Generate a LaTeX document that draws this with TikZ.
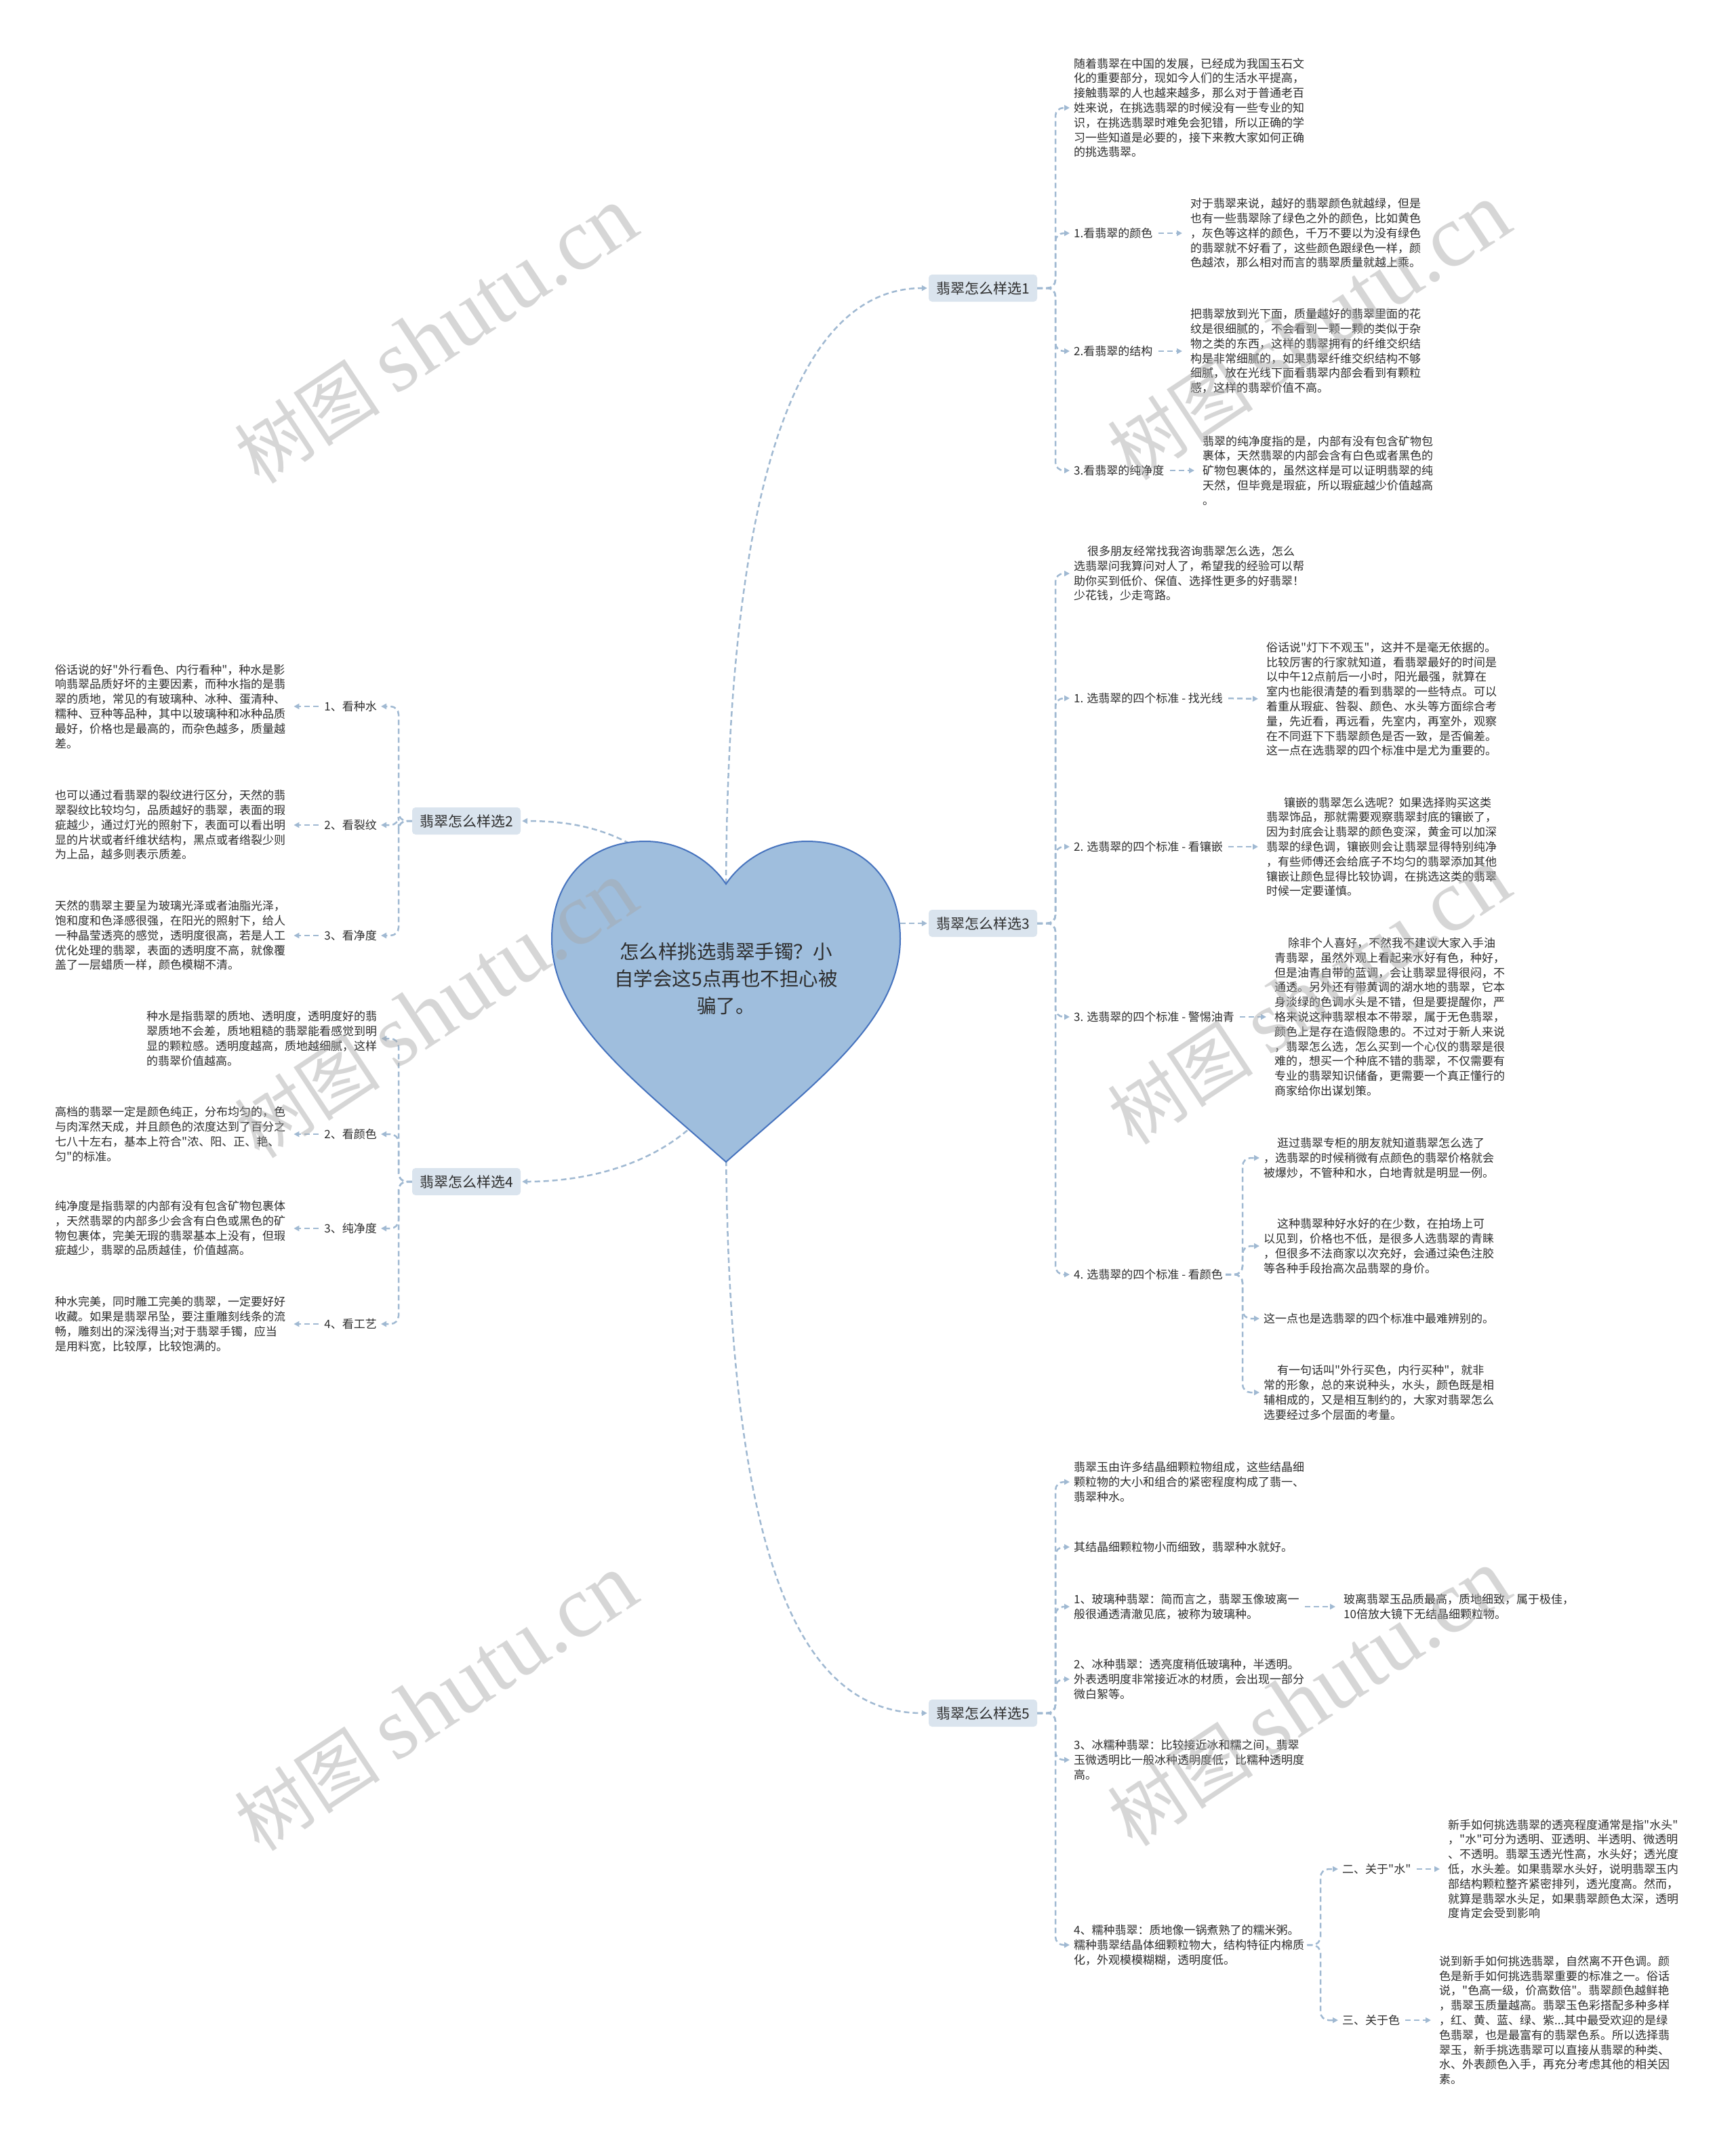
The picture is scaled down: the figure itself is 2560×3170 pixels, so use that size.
\documentclass[tikz,border=0pt]{standalone}
\usepackage{fontspec}
\setmainfont{Noto Sans CJK SC}
\newfontfamily\cjk{Noto Sans CJK SC}
\newfontfamily\wmserif{Liberation Serif}
\usetikzlibrary{arrows.meta}
\definecolor{conn}{RGB}{160,185,210}
\definecolor{boxfill}{RGB}{218,228,238}
\definecolor{txt}{RGB}{45,45,45}
\definecolor{heartfill}{RGB}{159,190,221}
\definecolor{heartline}{RGB}{70,115,190}
\tikzset{
 cnx/.style={draw=conn, line width=2.5pt, dash pattern=on 8pt off 5pt, -{Triangle[length=8pt,width=8pt]}},
 cnxr/.style={cnx, rounded corners=12pt, shorten >=6pt},
 cnxs/.style={cnx, shorten <=8pt, shorten >=12pt},
 cnxh/.style={cnx, shorten >=2pt},
 branch/.style={rectangle, rounded corners=5pt, fill=boxfill, text=txt, font=\cjk\fontsize{21}{26}\selectfont, inner xsep=10pt, minimum height=40pt, minimum width=160pt},
 body/.style={inner sep=0pt, text=txt, align=left, font=\cjk\fontsize{17}{21.8}\selectfont},
 lab/.style={inner sep=0pt, text=txt, font=\cjk\fontsize{17}{21.8}\selectfont},
 wmark/.style={text=black!35, opacity=0.45, rotate=33.5, inner sep=0pt}
}
\begin{document}
\begin{tikzpicture}[x=1pt,y=-1pt]
\useasboundingbox (0,0) rectangle (2560,3170);
\fill[white] (0,0) rectangle (2560,3170);

% ---------- section 1 ----------
\node[branch] (b1) at (1450,425) {翡翠怎么样选1};
\node[body,anchor=west] (s1a) at (1584,159) {随着翡翠在中国的发展，已经成为我国玉石文\\化的重要部分，现如今人们的生活水平提高，\\接触翡翠的人也越来越多，那么对于普通老百\\姓来说，在挑选翡翠的时候没有一些专业的知\\识，在挑选翡翠时难免会犯错，所以正确的学\\习一些知道是必要的，接下来教大家如何正确\\的挑选翡翠。};
\node[lab,anchor=west] (s1b) at (1584,344) {1.看翡翠的颜色};
\node[body,anchor=west] (s1bt) at (1756,344) {对于翡翠来说，越好的翡翠颜色就越绿，但是\\也有一些翡翠除了绿色之外的颜色，比如黄色\\，灰色等这样的颜色，千万不要以为没有绿色\\的翡翠就不好看了，这些颜色跟绿色一样，颜\\色越浓，那么相对而言的翡翠质量就越上乘。};
\node[lab,anchor=west] (s1c) at (1584,518) {2.看翡翠的结构};
\node[body,anchor=west] (s1ct) at (1756,518) {把翡翠放到光下面，质量越好的翡翠里面的花\\纹是很细腻的，不会看到一颗一颗的类似于杂\\物之类的东西，这样的翡翠拥有的纤维交织结\\构是非常细腻的，如果翡翠纤维交织结构不够\\细腻，放在光线下面看翡翠内部会看到有颗粒\\感，这样的翡翠价值不高。};
\node[lab,anchor=west] (s1d) at (1584,694) {3.看翡翠的纯净度};
\node[body,anchor=west] (s1dt) at (1774,694) {翡翠的纯净度指的是，内部有没有包含矿物包\\裹体，天然翡翠的内部会含有白色或者黑色的\\矿物包裹体的，虽然这样是可以证明翡翠的纯\\天然，但毕竟是瑕疵，所以瑕疵越少价值越高\\。};

% ---------- section 3 ----------
\node[branch] (b3) at (1450,1362) {翡翠怎么样选3};
\node[body,anchor=west] (s3a) at (1584,846) {\hspace*{20pt}很多朋友经常找我咨询翡翠怎么选，怎么\\选翡翠问我算问对人了，希望我的经验可以帮\\助你买到低价、保值、选择性更多的好翡翠！\\少花钱，少走弯路。};
\node[lab,anchor=west] (s3b) at (1584,1030) {1. 选翡翠的四个标准 - 找光线};
\node[body,anchor=west] (s3bt) at (1868,1031) {俗话说"灯下不观玉"，这并不是毫无依据的。\\比较厉害的行家就知道，看翡翠最好的时间是\\以中午12点前后一小时，阳光最强，就算在\\室内也能很清楚的看到翡翠的一些特点。可以\\着重从瑕疵、咎裂、颜色、水头等方面综合考\\量，先近看，再远看，先室内，再室外，观察\\在不同逛下下翡翠颜色是否一致，是否偏差。\\这一点在选翡翠的四个标准中是尤为重要的。};
\node[lab,anchor=west] (s3c) at (1584,1249) {2. 选翡翠的四个标准 - 看镶嵌};
\node[body,anchor=west] (s3ct) at (1868,1249) {\hspace*{26pt}镶嵌的翡翠怎么选呢？如果选择购买这类\\翡翠饰品，那就需要观察翡翠封底的镶嵌了，\\因为封底会让翡翠的颜色变深，黄金可以加深\\翡翠的绿色调，镶嵌则会让翡翠显得特别纯净\\，有些师傅还会给底子不均匀的翡翠添加其他\\镶嵌让颜色显得比较协调，在挑选这类的翡翠\\时候一定要谨慎。};
\node[lab,anchor=west] (s3d) at (1584,1500) {3. 选翡翠的四个标准 - 警惕油青};
\node[body,anchor=west] (s3dt) at (1880,1500) {\hspace*{20pt}除非个人喜好，不然我不建议大家入手油\\青翡翠，虽然外观上看起来水好有色，种好，\\但是油青自带的蓝调，会让翡翠显得很闷，不\\通透。另外还有带黄调的湖水地的翡翠，它本\\身淡绿的色调水头是不错，但是要提醒你，严\\格来说这种翡翠根本不带翠，属于无色翡翠，\\颜色上是存在造假隐患的。不过对于新人来说\\，翡翠怎么选，怎么买到一个心仪的翡翠是很\\难的，想买一个种底不错的翡翠，不仅需要有\\专业的翡翠知识储备，更需要一个真正懂行的\\商家给你出谋划策。};
\node[lab,anchor=west] (s3e) at (1584,1880) {4. 选翡翠的四个标准 - 看颜色};
\node[body,anchor=west] (s3e1) at (1864,1708) {\hspace*{20pt}逛过翡翠专柜的朋友就知道翡翠怎么选了\\，选翡翠的时候稍微有点颜色的翡翠价格就会\\被爆炒，不管种和水，白地青就是明显一例。};
\node[body,anchor=west] (s3e2) at (1864,1838) {\hspace*{20pt}这种翡翠种好水好的在少数，在拍场上可\\以见到，价格也不低，是很多人选翡翠的青睐\\，但很多不法商家以次充好，会通过染色注胶\\等各种手段抬高次品翡翠的身价。};
\node[body,anchor=west] (s3e3) at (1864,1945) {这一点也是选翡翠的四个标准中最难辨别的。};
\node[body,anchor=west] (s3e4) at (1864,2054) {\hspace*{20pt}有一句话叫"外行买色，内行买种"，就非\\常的形象，总的来说种头，水头，颜色既是相\\辅相成的，又是相互制约的，大家对翡翠怎么\\选要经过多个层面的考量。};

% ---------- section 5 ----------
\node[branch] (b5) at (1450,2527) {翡翠怎么样选5};
\node[body,anchor=west] (s5a) at (1584,2186) {翡翠玉由许多结晶细颗粒物组成，这些结晶细\\颗粒物的大小和组合的紧密程度构成了翡一、\\翡翠种水。};
\node[body,anchor=west] (s5b) at (1584,2282) {其结晶细颗粒物小而细致，翡翠种水就好。};
\node[body,anchor=west] (s5c) at (1584,2370) {1、玻璃种翡翠：简而言之，翡翠玉像玻离一\\般很通透清澈见底，被称为玻璃种。};
\node[body,anchor=west] (s5ct) at (1982,2370) {玻离翡翠玉品质最高，质地细致，属于极佳，\\10倍放大镜下无结晶细颗粒物。};
\node[body,anchor=west] (s5d) at (1584,2477) {2、冰种翡翠：透亮度稍低玻璃种，半透明。\\外表透明度非常接近冰的材质，会出现一部分\\微白絮等。};
\node[body,anchor=west] (s5e) at (1584,2596) {3、冰糯种翡翠：比较接近冰和糯之间，翡翠\\玉微透明比一般冰种透明度低，比糯种透明度\\高。};
\node[body,anchor=west] (s5f) at (1584,2869) {4、糯种翡翠：质地像一锅煮熟了的糯米粥。\\糯种翡翠结晶体细颗粒物大，结构特征内棉质\\化，外观模模糊糊，透明度低。};
\node[lab,anchor=west] (s5g) at (1980,2757) {二、关于"水"};
\node[body,anchor=west] (s5gt) at (2136,2757) {新手如何挑选翡翠的透亮程度通常是指"水头"\\，"水"可分为透明、亚透明、半透明、微透明\\、不透明。翡翠玉透光性高，水头好；透光度\\低，水头差。如果翡翠水头好，说明翡翠玉内\\部结构颗粒整齐紧密排列，透光度高。然而，\\就算是翡翠水头足，如果翡翠颜色太深，透明\\度肯定会受到影响};
\node[lab,anchor=west] (s5h) at (1980,2980) {三、关于色};
\node[body,anchor=west] (s5ht) at (2123,2980) {说到新手如何挑选翡翠，自然离不开色调。颜\\色是新手如何挑选翡翠重要的标准之一。俗话\\说，"色高一级，价高数倍"。翡翠颜色越鲜艳\\，翡翠玉质量越高。翡翠玉色彩搭配多种多样\\，红、黄、蓝、绿、紫...其中最受欢迎的是绿\\色翡翠，也是最富有的翡翠色系。所以选择翡\\翠玉，新手挑选翡翠可以直接从翡翠的种类、\\水、外表颜色入手，再充分考虑其他的相关因\\素。};

% ---------- section 2 ----------
\node[branch] (b2) at (688,1211) {翡翠怎么样选2};
\node[lab,anchor=east] (s2a) at (556,1042) {1、看种水};
\node[body,anchor=west] (s2at) at (81,1042) {俗话说的好"外行看色、内行看种"，种水是影\\响翡翠品质好坏的主要因素，而种水指的是翡\\翠的质地，常见的有玻璃种、冰种、蛋清种、\\糯种、豆种等品种，其中以玻璃种和冰种品质\\最好，价格也是最高的，而杂色越多，质量越\\差。};
\node[lab,anchor=east] (s2b) at (556,1217) {2、看裂纹};
\node[body,anchor=west] (s2bt) at (81,1217) {也可以通过看翡翠的裂纹进行区分，天然的翡\\翠裂纹比较均匀，品质越好的翡翠，表面的瑕\\疵越少，通过灯光的照射下，表面可以看出明\\显的片状或者纤维状结构，黑点或者绺裂少则\\为上品，越多则表示质差。};
\node[lab,anchor=east] (s2c) at (556,1380) {3、看净度};
\node[body,anchor=west] (s2ct) at (81,1380) {天然的翡翠主要呈为玻璃光泽或者油脂光泽，\\饱和度和色泽感很强，在阳光的照射下，给人\\一种晶莹透亮的感觉，透明度很高，若是人工\\优化处理的翡翠，表面的透明度不高，就像覆\\盖了一层蜡质一样，颜色模糊不清。};

% ---------- section 4 ----------
\node[branch] (b4) at (688,1743) {翡翠怎么样选4};
\node[body,anchor=west] (s4a) at (216,1532) {种水是指翡翠的质地、透明度，透明度好的翡\\翠质地不会差，质地粗糙的翡翠能看感觉到明\\显的颗粒感。透明度越高，质地越细腻，这样\\的翡翠价值越高。};
\node[lab,anchor=east] (s4b) at (556,1673) {2、看颜色};
\node[body,anchor=west] (s4bt) at (81,1673) {高档的翡翠一定是颜色纯正，分布均匀的，色\\与肉浑然天成，并且颜色的浓度达到了百分之\\七八十左右，基本上符合"浓、阳、正、艳、\\匀"的标准。};
\node[lab,anchor=east] (s4c) at (556,1812) {3、纯净度};
\node[body,anchor=west] (s4ct) at (81,1812) {纯净度是指翡翠的内部有没有包含矿物包裹体\\，天然翡翠的内部多少会含有白色或黑色的矿\\物包裹体，完美无瑕的翡翠基本上没有，但瑕\\疵越少，翡翠的品质越佳，价值越高。};
\node[lab,anchor=east] (s4d) at (556,1953) {4、看工艺};
\node[body,anchor=west] (s4dt) at (81,1953) {种水完美，同时雕工完美的翡翠，一定要好好\\收藏。如果是翡翠吊坠，要注重雕刻线条的流\\畅，雕刻出的深浅得当;对于翡翠手镯，应当\\是用料宽，比较厚，比较饱满的。};

% ---------- junctions ----------
\coordinate (j1) at (1557,425);
\coordinate (j3) at (1557,1362);
\coordinate (j3e) at (1833,1880);
\coordinate (j5) at (1557,2527);
\coordinate (j5f) at (1948,2869);
\coordinate (j2) at (588,1211);
\coordinate (j4) at (588,1743);

% ---------- connectors ----------
\foreach \c in {s1a,s1b,s1c,s1d} \draw[cnxr] (b1.east) -- (j1) |- (\c.west);
\draw[cnxs] (s1b.east) -- (s1bt.west);
\draw[cnxs] (s1c.east) -- (s1ct.west);
\draw[cnxs] (s1d.east) -- (s1dt.west);

\foreach \c in {s3a,s3b,s3c,s3d,s3e} \draw[cnxr] (b3.east) -- (j3) |- (\c.west);
\draw[cnxs] (s3b.east) -- (s3bt.west);
\draw[cnxs] (s3c.east) -- (s3ct.west);
\draw[cnxs] (s3d.east) -- (s3dt.west);
\foreach \c in {s3e1,s3e2,s3e3,s3e4} \draw[cnxr] ([xshift=4pt]s3e.east) -- (j3e) |- (\c.west);

\foreach \c in {s5a,s5b,s5c,s5d,s5e,s5f} \draw[cnxr] (b5.east) -- (j5) |- (\c.west);
\draw[cnxs] (s5c.east) -- (s5ct.west);
\foreach \c in {s5g,s5h} \draw[cnxr] ([xshift=4pt]s5f.east) -- (j5f) |- (\c.west);
\draw[cnxs] (s5g.east) -- (s5gt.west);
\draw[cnxs] (s5h.east) -- (s5ht.west);

\foreach \c in {s2a,s2b,s2c} \draw[cnxr] (b2.west) -- (j2) |- (\c.east);
\draw[cnxs] (s2a.west) -- (s2at.east);
\draw[cnxs] (s2b.west) -- (s2bt.east);
\draw[cnxs] (s2c.west) -- (s2ct.east);

\foreach \c in {s4a,s4b,s4c,s4d} \draw[cnxr] (b4.west) -- (j4) |- (\c.east);
\draw[cnxs] (s4b.west) -- (s4bt.east);
\draw[cnxs] (s4c.west) -- (s4ct.east);
\draw[cnxs] (s4d.west) -- (s4dt.east);

% heart connectors
\coordinate (hA) at (1071,1330);
\coordinate (hB) at (1250,1362);
\coordinate (hC) at (1071,1660);
\coordinate (hD) at (1000,1300);
\coordinate (hE) at (1050,1630);
\draw[cnxh] (hA) .. controls (1071,700) and (1180,425) .. (b1.west);
\draw[cnxh] (hB) -- (b3.west);
\draw[cnxh] (hC) .. controls (1071,2300) and (1180,2527) .. (b5.west);
\draw[cnxh] (hD) .. controls (930,1225) and (850,1211) .. (b2.east);
\draw[cnxh] (hE) .. controls (980,1720) and (860,1743) .. (b4.east);

% ---------- heart ----------
\filldraw[fill=heartfill, draw=heartline, line width=2pt]
 (1071,1304) .. controls (1095,1268) and (1140,1241) .. (1190,1241)
 .. controls (1275,1241) and (1328,1300) .. (1328,1385)
 .. controls (1328,1505) and (1205,1595) .. (1071,1714)
 .. controls (937,1595) and (814,1505) .. (814,1385)
 .. controls (814,1300) and (867,1241) .. (952,1241)
 .. controls (1002,1241) and (1047,1268) .. (1071,1304) -- cycle;
\node[inner sep=0pt, align=center, text=txt, font=\cjk\fontsize{28.5}{40}\selectfont] (root) at (1071,1444) {怎么样挑选翡翠手镯？小\\自学会这5点再也不担心被\\骗了。};

% ---------- watermarks ----------
\foreach \wx/\wy [count=\i] in {643/495, 1931/490, 643/1490, 1931/1470, 643/2512, 1931/2505}
  \node[wmark] (wm\i) at (\wx,\wy) {\cjk\fontsize{108}{108}\selectfont 树图\hspace{25pt}{\wmserif\fontsize{130}{130}\selectfont shutu.cn}};
\end{tikzpicture}
\end{document}
